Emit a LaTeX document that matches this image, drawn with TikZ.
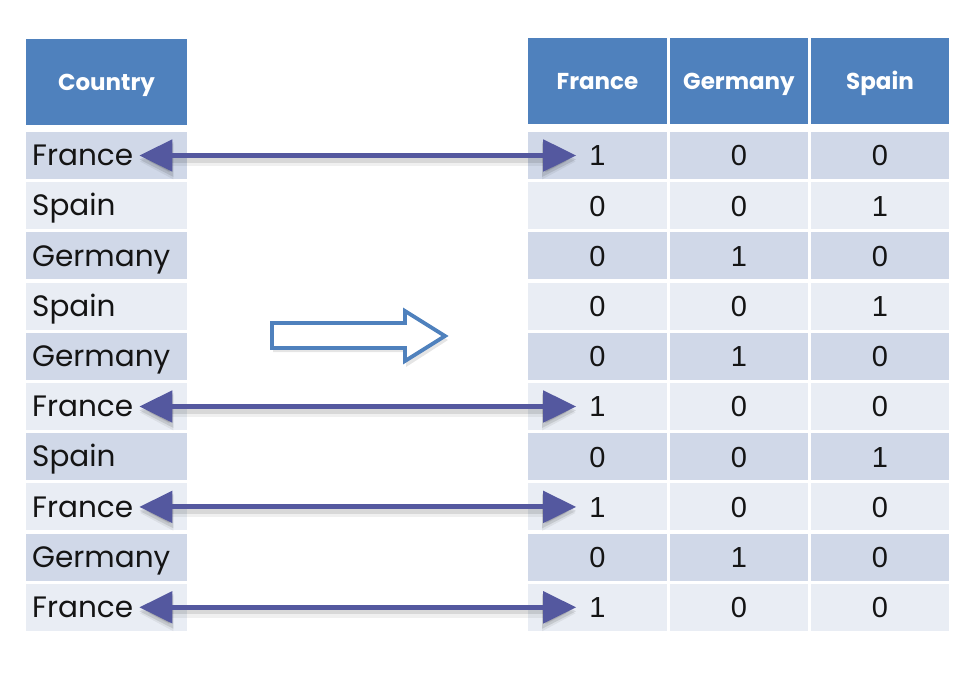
\documentclass[tikz,border=0pt]{standalone}
\usepackage{fontspec}
\setmainfont{Liberation Sans}
\newfontfamily\popp{Poppins}
\usetikzlibrary{arrows.meta}
\definecolor{hblue}{HTML}{4F81BD}
\definecolor{rowdark}{HTML}{D0D8E8}
\definecolor{rowlight}{HTML}{E9EDF4}
\definecolor{arrowc}{HTML}{54589F}
\definecolor{txt}{HTML}{141414}
\begin{document}
\begin{tikzpicture}[x=1pt,y=-1pt,
  cell/.style={draw=none, minimum width=#1, minimum height=47pt, inner sep=0pt, outer sep=0pt},
  hcell/.style={draw=none, fill=hblue, minimum width=#1, minimum height=86pt, inner sep=0pt, outer sep=0pt,
    text=white, font=\popp\bfseries\fontsize{23}{27}\selectfont, text height=16pt, text depth=0pt},
  lbl/.style={anchor=west, inner xsep=6pt, inner ysep=0pt, text=txt,
    font=\popp\fontsize{29.5}{34}\selectfont, text height=20.5pt, text depth=0pt},
  numtxt/.style={inner xsep=13pt, inner ysep=0pt, text=txt,
    font=\fontsize{29}{34}\selectfont, text height=20.8pt, text depth=0pt},
  dbl/.style={draw=arrowc, line width=5pt,
    {Triangle[length=33pt,width=31pt]}-{Triangle[length=33pt,width=31pt]}},
  dblshadow/.style={draw=black, line width=6pt, opacity=#1,
    {Triangle[length=34pt,width=33pt]}-{Triangle[length=34pt,width=33pt]}},
  blockarrow/.style={draw=hblue, line width=3.8pt, fill=white, line join=miter}
]
\useasboundingbox (0,0) rectangle (977,672);

% headers
\node[hcell=161pt] (HC) at (106.5,82) {Country};
\node[hcell=139pt] (HF) at (597.5,81) {France};
\node[hcell=138pt] (HG) at (739,81) {Germany};
\node[hcell=138pt] (HS) at (880,81) {Spain};

% left column
\foreach \lab [count=\i from 0] in {France,Spain,Germany,Spain,Germany,France,Spain,France,Germany,France}{
  \pgfmathsetmacro\yc{155.5+50.2*\i}
  \ifodd\i \def\rc{rowlight}\else\def\rc{rowdark}\fi
  \node[cell=161pt, fill=\rc] (L\i) at (106.5,\yc) {};
  \node[lbl] (LT\i) at (L\i.west) {\lab};
}

% right table
\foreach \a/\b/\c [count=\i from 0] in {1/0/0,0/0/1,0/1/0,0/0/1,0/1/0,1/0/0,0/0/1,1/0/0,0/1/0,1/0/0}{
  \pgfmathsetmacro\yc{155.5+50.2*\i}
  \ifodd\i \def\rc{rowlight}\else\def\rc{rowdark}\fi
  \node[cell=139pt, fill=\rc] (A\i) at (597.5,\yc) {};
  \node[cell=138pt, fill=\rc] (B\i) at (739,\yc) {};
  \node[cell=138pt, fill=\rc] (C\i) at (880,\yc) {};
  \node[numtxt] (N\i) at (A\i.center) {\a};
  \node[numtxt] (NB\i) at (B\i.center) {\b};
  \node[numtxt] (NC\i) at (C\i.center) {\c};
}

% double arrows with soft shadow
\foreach \i in {0,5,7,9}{
  \begin{scope}[transform canvas={yshift=-6pt}]
    \draw[dblshadow=0.06, line width=9pt] (LT\i.east) -- (N\i.west);
  \end{scope}
  \begin{scope}[transform canvas={yshift=-4pt}]
    \draw[dblshadow=0.10] (LT\i.east) -- (N\i.west);
  \end{scope}
  \draw[dbl] (LT\i.east) -- (N\i.west);
}

% block arrow
\begin{scope}[transform canvas={yshift=-4pt}]
  \fill[black, opacity=0.10] (273,323) -- (406,323) -- (406,311) -- (448,336) -- (406,363) -- (406,348) -- (273,348) -- cycle;
\end{scope}
\draw[blockarrow] (272,323) -- (405,323) -- (405,311) -- (445,336) -- (405,361) -- (405,348) -- (272,348) -- cycle;
\end{tikzpicture}
\end{document}
